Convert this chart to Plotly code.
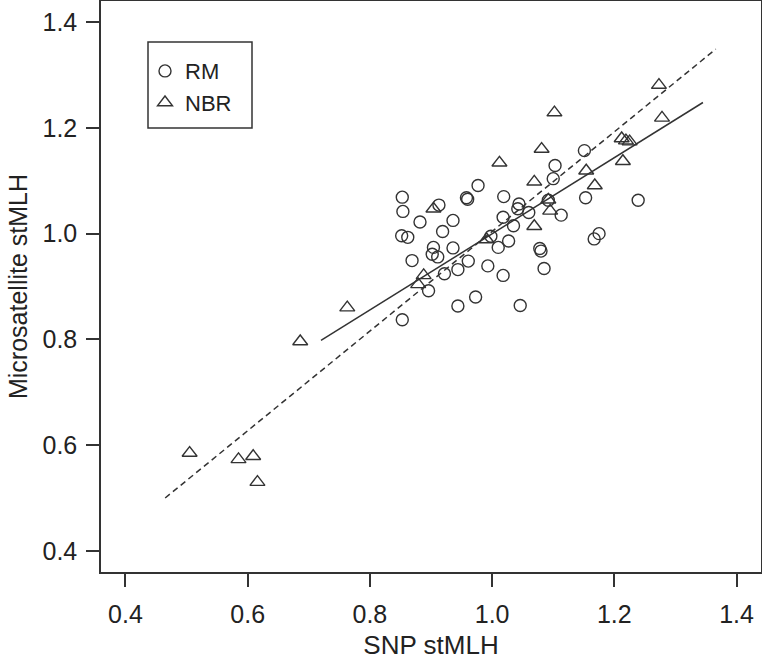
import plotly.graph_objects as go

# ---- data ----
rm_x = [0.853, 0.854, 0.882, 0.852, 0.862, 0.869, 0.896, 0.853, 0.913, 0.936,
        0.919, 0.904, 0.902, 0.911, 0.936, 0.922, 0.944, 0.961, 0.944, 0.973,
        0.958, 0.960, 0.977, 0.993, 1.018, 1.010, 0.998, 1.027, 1.018, 1.035,
        1.019, 1.044, 1.042, 1.060, 1.078, 1.080, 1.085, 1.046, 1.103, 1.100,
        1.092, 1.113, 1.151, 1.153, 1.167, 1.175, 1.239]
rm_y = [1.069, 1.042, 1.022, 0.996, 0.993, 0.949, 0.892, 0.837, 1.054, 1.025,
        1.004, 0.974, 0.961, 0.956, 0.973, 0.924, 0.932, 0.948, 0.863, 0.880,
        1.068, 1.065, 1.091, 0.939, 0.921, 0.974, 0.995, 0.986, 1.031, 1.015,
        1.070, 1.056, 1.047, 1.040, 0.972, 0.967, 0.934, 0.864, 1.129, 1.104,
        1.063, 1.035, 1.157, 1.068, 0.990, 1.000, 1.063]

nbr_x = [1.273, 1.278, 1.102, 1.081, 1.012, 1.069, 1.092, 1.095, 1.069, 0.991,
         0.888, 0.879, 0.904, 1.154, 1.168, 1.212, 1.219, 1.225, 1.214,
         0.505, 0.585, 0.609, 0.616, 0.686, 0.763]
nbr_y = [1.281, 1.219, 1.229, 1.160, 1.134, 1.098, 1.064, 1.043, 1.014, 0.989,
         0.921, 0.904, 1.047, 1.119, 1.091, 1.180, 1.176, 1.174, 1.137,
         0.585, 0.573, 0.579, 0.530, 0.796, 0.860]

# regression lines (end points)
solid_x = [0.720, 1.345]
solid_y = [0.798, 1.248]
dash_x = [0.465, 1.366]
dash_y = [0.500, 1.349]

tick_vals = [0.4, 0.6, 0.8, 1.0, 1.2, 1.4]
tick_text = ["0.4", "0.6", "0.8", "1.0", "1.2", "1.4"]

FONT = "Liberation Sans, Arial, sans-serif"
INK = "#333333"

fig = go.Figure()
fig.add_trace(go.Scatter(x=rm_x, y=rm_y, mode="markers", name="RM",
                         marker=dict(symbol="circle-open", size=12, color=INK,
                                     line=dict(width=1.4, color=INK))))
fig.add_trace(go.Scatter(x=nbr_x, y=nbr_y, mode="markers", name="NBR",
                         marker=dict(symbol="triangle-up-open", size=13, color=INK,
                                     line=dict(width=1.4, color=INK))))
fig.add_trace(go.Scatter(x=solid_x, y=solid_y, mode="lines", showlegend=False,
                         line=dict(color=INK, width=1.5)))
fig.add_trace(go.Scatter(x=dash_x, y=dash_y, mode="lines", showlegend=False,
                         line=dict(color=INK, width=1.5, dash="6px,4px")))

axis_common = dict(range=[0.36, 1.44], tickvals=tick_vals, ticktext=tick_text,
                   showgrid=False, zeroline=False, showline=True, mirror=True,
                   linecolor=INK, linewidth=1.5, ticks="outside", ticklen=13,
                   tickwidth=1.5, tickcolor=INK, automargin=False,
                   tickfont=dict(family=FONT, size=25, color="#222"))

fig.update_layout(
    width=762, height=660,
    margin=dict(l=101, r=1, t=1, b=88),
    paper_bgcolor="white", plot_bgcolor="white",
    font=dict(family=FONT, color="#222"),
    xaxis=dict(**axis_common,
               title=dict(text="SNP stMLH", font=dict(family=FONT, size=26, color="#222"),
                          standoff=9),
               ticklabelstandoff=6),
    yaxis=dict(**axis_common,
               title=dict(text="Microsatellite stMLH", font=dict(family=FONT, size=25, color="#222"),
                          standoff=8),
               ticklabelstandoff=4),
    legend=dict(x=(145 - 101) / 660, y=0.914, xanchor="left", yanchor="top",
                bgcolor="rgba(0,0,0,0)", borderwidth=0,
                font=dict(family=FONT, size=22, color="#222"),
                itemwidth=30, tracegroupgap=0),
    shapes=[dict(type="rect", xref="paper", yref="paper",
                 x0=(148 - 101) / 660, x1=(252 - 101) / 660,
                 y0=(572 - 128) / 571, y1=(572 - 42) / 571,
                 line=dict(color=INK, width=1.5))],
)

fig.write_html("out.html", config={"displayModeBar": False},
               post_script="document.body.style.margin='0';document.body.style.overflow='hidden';")
